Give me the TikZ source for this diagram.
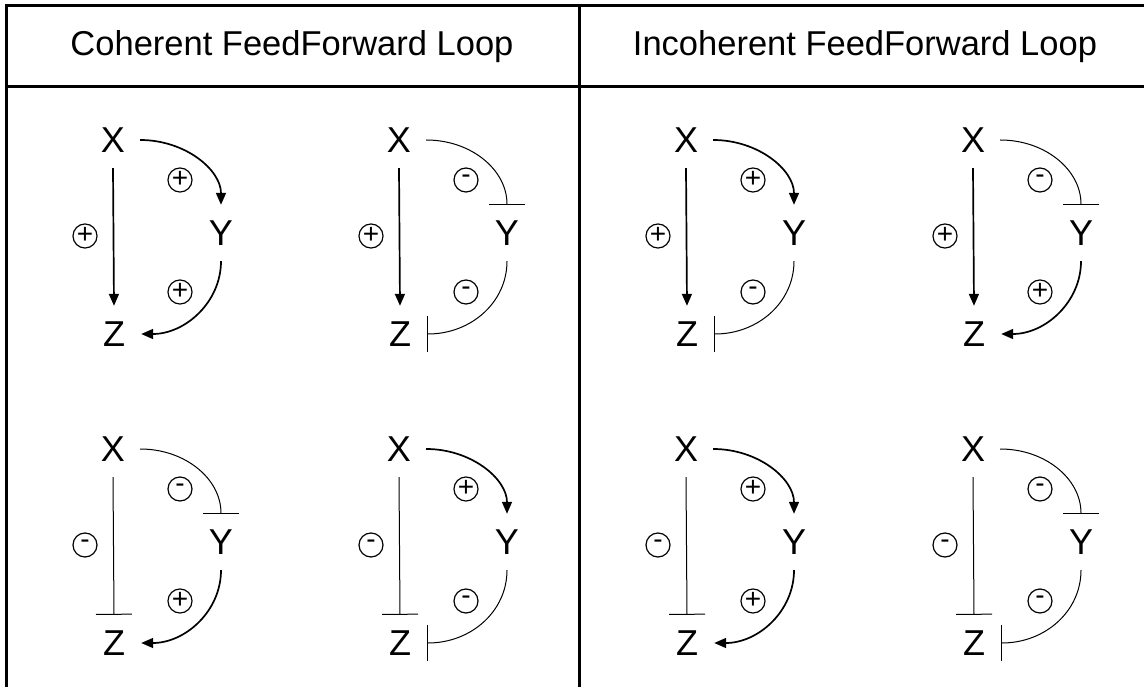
\documentclass[tikz,border=0pt]{standalone}
\usepackage{fontspec}
\setmainfont{Liberation Sans}
\usetikzlibrary{arrows.meta}
\tikzset{
  lett/.style={font=\fontsize{36}{36}\selectfont, inner sep=0pt, minimum width=54pt, minimum height=56pt},
  head/.style={font=\fontsize{34.5}{34.5}\selectfont, inner sep=0pt},
  sign/.style={draw, circle, line width=1.2pt, inner sep=0pt, minimum size=24pt, font=\fontsize{28}{28}\selectfont},
  act/.style={line width=1.7pt, -{Triangle[length=12pt,width=10pt]}},
  inh/.style={line width=1pt, -{Bar[width=36pt,line width=1pt]}},
  frame/.style={line width=3pt}
}
% #1 id, #2 x, #3 y, #4 XY style, #5 YZ style, #6 XZ style, #7 XY sign, #8 YZ sign, #9 XZ sign
\newcommand{\fflmotif}[9]{%
  \node[lett] (X#1) at (#2,#3) {X};
  \node[lett] (Y#1) at (#2+108,#3+93) {Y};
  \node[lett] (Z#1) at (#2+1,#3+194) {Z};
  \draw[#4] (X#1.east) .. controls +(45,0) and +(0,-35) .. (Y#1.north);
  \draw[#5] (Y#1.south) .. controls +(0,41) and +(44,0) .. (Z#1.east);
  \draw[#6] (X#1.south) -- (Z#1.north);
  \node[sign] (sa#1) at (#2+67,#3+40) {\raisebox{1.5pt}{#7}};
  \node[sign] (sb#1) at (#2+67,#3+152) {\raisebox{1.5pt}{#8}};
  \node[sign] (sc#1) at (#2-28,#3+96) {\raisebox{1.5pt}{#9}};
}
\begin{document}
\begin{tikzpicture}[x=1pt,y=-1pt]
\useasboundingbox (0,0) rectangle (1144,687);
\fill[white] (0,0) rectangle (1144,687);
\coordinate (tl) at (6,6);
\coordinate (tr) at (1144,6);
\coordinate (hl) at (6,87);
\coordinate (hr) at (1144,87);
\coordinate (bl) at (6,687);
\coordinate (dt) at (579,6);
\coordinate (db) at (579,687);
\draw[frame] (tl) -- (tr);
\draw[frame] (hl) -- (hr);
\draw[frame] ([yshift=1.5pt]tl) -- (bl);
\draw[frame] ([yshift=1.5pt]dt) -- (db);
\node[head] (h1) at (292,47) {Coherent FeedForward Loop};
\node[head] (h2) at (865,47) {Incoherent FeedForward Loop};
\fflmotif{a}{113}{140}{act}{act}{act}{+}{+}{+}
\fflmotif{b}{399}{140}{inh}{inh}{act}{-}{-}{+}
\fflmotif{c}{686}{140}{act}{inh}{act}{+}{-}{+}
\fflmotif{d}{973}{140}{inh}{act}{act}{-}{+}{+}
\fflmotif{e}{113}{449}{inh}{act}{inh}{-}{+}{-}
\fflmotif{f}{399}{449}{act}{inh}{inh}{+}{-}{-}
\fflmotif{g}{686}{449}{act}{act}{inh}{+}{+}{-}
\fflmotif{h}{973}{449}{inh}{inh}{inh}{-}{-}{-}
\end{tikzpicture}
\end{document}
